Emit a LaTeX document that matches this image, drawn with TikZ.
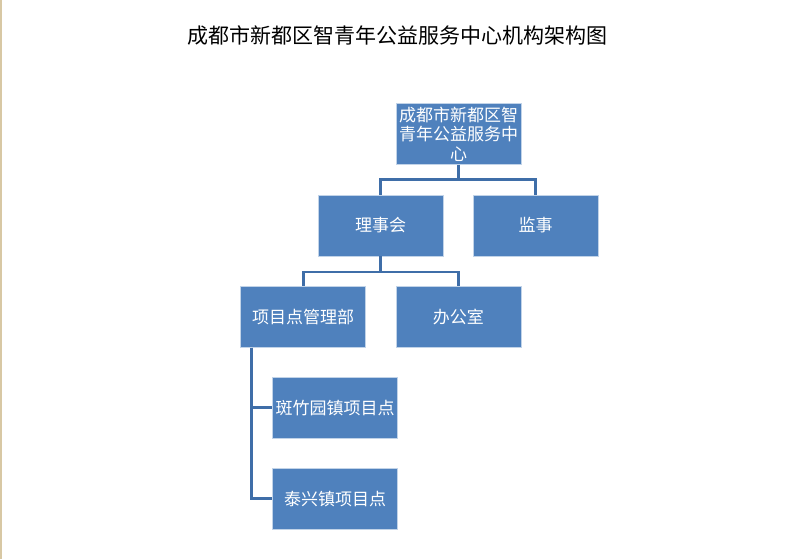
\documentclass[tikz,border=0pt]{standalone}
\usepackage{fontspec}
\newfontfamily\cjk{Noto Sans CJK SC}
\definecolor{boxblue}{HTML}{4F81BD}
\definecolor{lineblue}{HTML}{3F6EA8}
\definecolor{edgetan}{HTML}{D8C8A4}
\tikzset{
  unitbox/.style={fill=boxblue, draw=boxblue!35!white, line width=0.8pt,
    minimum width=125, minimum height=61, inner sep=0pt,
    text=white, align=center, font=\cjk\fontsize{17}{19.5}\selectfont},
  conn/.style={draw=lineblue, line width=2.6pt}
}
\begin{document}
\begin{tikzpicture}[x=1pt,y=-1pt]
                \useasboundingbox (0,0) rectangle (792,559);
                % Drawing page edge
                \fill [edgetan] (0,0) rectangle (1.6,559);%
                
                % Marking title
                \node (title) at (397.5,36) {\cjk\fontsize{21}{24}\selectfont 成都市新都区智青年公益服务中心机构架构图};%
                
                % Drawing top unit
                \node [unitbox] (zx) at (458.5,134) {成都市新都区智\\青年公益服务中\\心};%
                
                % Drawing second row
                \node [unitbox] (lsh) at (380.5,225.5) {理事会};%
                \node [unitbox] (jsh) at (535.7,225.5) {监事};%
                
                % Drawing third row
                \node [unitbox] (xmb) at (303.2,316.7) {项目点管理部};%
                \node [unitbox] (bgs) at (458.4,316.7) {办公室};%
                
                % Drawing project points
                \node [unitbox] (bzy) at (335,407.7) {斑竹园镇项目点};%
                \node [unitbox] (txz) at (335,498.7) {泰兴镇项目点};%
                
                % Drawing links zx - lsh, jsh
                \draw [conn] (zx.south) -- ++(0,14.5) coordinate (bus1);%
                \draw [conn] (lsh.north) |- (bus1) -| (jsh.north);%
                
                % Drawing links lsh - xmb, bgs
                \draw [conn] (lsh.south) -- ++(0,15.5) coordinate (bus2);%
                \draw [conn] (xmb.north) |- (bus2) -| (bgs.north);%
                
                % Drawing links xmb - bzy, txz
                \draw [conn] ([xshift=11]xmb.south west) |- (bzy.west);%
                \draw [conn] ([xshift=11]xmb.south west) |- (txz.west);%
\end{tikzpicture}
\end{document}
